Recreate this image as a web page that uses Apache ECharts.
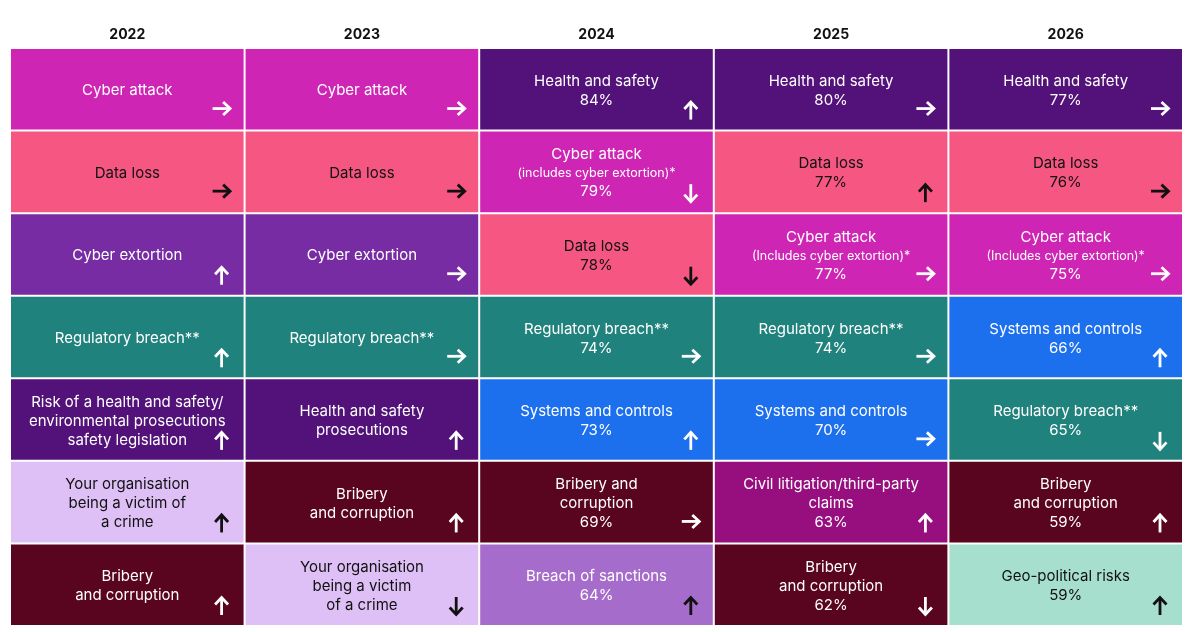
<!DOCTYPE html>
<html><head><meta charset="utf-8">
<script src="https://cdn.jsdelivr.net/npm/echarts@6/dist/echarts.min.js"></script>
<style>html,body{margin:0;padding:0;background:#fff}#c{width:1198px;height:632px}</style>
</head><body><div id="c"></div>
<script>
var years = ['2022', '2023', '2024', '2025', '2026'];
var ranks = ['1', '2', '3', '4', '5', '6', '7'];

var labels2022 = ['Cyber attack', 'Data loss', 'Cyber extortion', 'Regulatory breach**', 'Risk of a health and safety/\nenvironmental prosecutions\nsafety legislation', 'Your organisation\nbeing a victim of\na crime', 'Bribery\nand corruption'];
var kinds2022 = ['cyber', 'data', 'extortion', 'regulatory', 'health', 'victim', 'bribery'];
var pct2022 = [null, null, null, null, null, null, null];
var trend2022 = ['right', 'right', 'up', 'up', 'up', 'up', 'up'];

var labels2023 = ['Cyber attack', 'Data loss', 'Cyber extortion', 'Regulatory breach**', 'Health and safety\nprosecutions', 'Bribery\nand corruption', 'Your organisation\nbeing a victim\nof a crime'];
var kinds2023 = ['cyber', 'data', 'extortion', 'regulatory', 'health', 'bribery', 'victim'];
var pct2023 = [null, null, null, null, null, null, null];
var trend2023 = ['right', 'right', 'right', 'right', 'up', 'up', 'down'];

var labels2024 = ['Health and safety', 'Cyber attack', 'Data loss', 'Regulatory breach**', 'Systems and controls', 'Bribery and\ncorruption', 'Breach of sanctions'];
var notes2024 = ['', '(includes cyber extortion)*', '', '', '', '', ''];
var kinds2024 = ['health', 'cyber', 'data', 'regulatory', 'systems', 'bribery', 'sanctions'];
var pct2024 = [84, 79, 78, 74, 73, 69, 64];
var trend2024 = ['up', 'down', 'down', 'right', 'up', 'right', 'up'];

var labels2025 = ['Health and safety', 'Data loss', 'Cyber attack', 'Regulatory breach**', 'Systems and controls', 'Civil litigation/third-party\nclaims', 'Bribery\nand corruption'];
var notes2025 = ['', '', '(Includes cyber extortion)*', '', '', '', ''];
var kinds2025 = ['health', 'data', 'cyber', 'regulatory', 'systems', 'civil', 'bribery'];
var pct2025 = [80, 77, 77, 74, 70, 63, 62];
var trend2025 = ['right', 'up', 'right', 'right', 'right', 'up', 'down'];

var labels2026 = ['Health and safety', 'Data loss', 'Cyber attack', 'Systems and controls', 'Regulatory breach**', 'Bribery\nand corruption', 'Geo-political risks'];
var notes2026 = ['', '', '(Includes cyber extortion)*', '', '', '', ''];
var kinds2026 = ['health', 'data', 'cyber', 'systems', 'regulatory', 'bribery', 'geo'];
var pct2026 = [77, 76, 75, 66, 65, 59, 59];
var trend2026 = ['right', 'right', 'right', 'up', 'down', 'up', 'up'];

var emptyNotes = ['', '', '', '', '', '', ''];

// styling per risk kind: [fill, text colour, arrow colour]
var kindStyle = {
  cyber:      ['#CF25B4', '#ffffff', '#ffffff'],
  data:       ['#F65782', '#111111', '#111111'],
  extortion:  ['#772CA3', '#ffffff', '#ffffff'],
  regulatory: ['#20827D', '#ffffff', '#ffffff'],
  health:     ['#531279', '#ffffff', '#ffffff'],
  victim:     ['#DFC0F6', '#111111', '#111111'],
  bribery:    ['#59051F', '#ffffff', '#ffffff'],
  systems:    ['#1C70EE', '#ffffff', '#ffffff'],
  civil:      ['#970E7E', '#ffffff', '#ffffff'],
  sanctions:  ['#A66CCB', '#ffffff', '#111111'],
  geo:        ['#A7DFCF', '#111111', '#111111']
};

var columns = [
  {labels: labels2022, notes: emptyNotes, kinds: kinds2022, pct: pct2022, trend: trend2022},
  {labels: labels2023, notes: emptyNotes, kinds: kinds2023, pct: pct2023, trend: trend2023},
  {labels: labels2024, notes: notes2024, kinds: kinds2024, pct: pct2024, trend: trend2024},
  {labels: labels2025, notes: notes2025, kinds: kinds2025, pct: pct2025, trend: trend2025},
  {labels: labels2026, notes: notes2026, kinds: kinds2026, pct: pct2026, trend: trend2026}
];

var data = [];
columns.forEach(function (col, ci) {
  col.labels.forEach(function (lab, ri) {
    data.push({
      value: [ci, ri, col.pct[ri] == null ? '-' : col.pct[ri]],
      label: lab, note: col.notes[ri], kind: col.kinds[ri], trend: col.trend[ri], pct: col.pct[ri]
    });
  });
});

function arrowShapes(dir, cx, cy, color) {
  var st = {stroke: color, lineWidth: 2.8, fill: 'none', lineJoin: 'miter', lineCap: 'butt'};
  var shaft, head;
  if (dir === 'right') {
    shaft = [[cx - 9, cy], [cx + 8, cy]];
    head = [[cx + 1.5, cy - 6.5], [cx + 8.5, cy], [cx + 1.5, cy + 6.5]];
  } else if (dir === 'up') {
    shaft = [[cx, cy + 9], [cx, cy - 8]];
    head = [[cx - 6.5, cy - 1.5], [cx, cy - 8.5], [cx + 6.5, cy - 1.5]];
  } else {
    shaft = [[cx, cy - 9], [cx, cy + 8]];
    head = [[cx - 6.5, cy + 1.5], [cx, cy + 8.5], [cx + 6.5, cy + 1.5]];
  }
  return [
    {type: 'polyline', shape: {points: shaft}, style: st, silent: true},
    {type: 'polyline', shape: {points: head}, style: st, silent: true}
  ];
}

var chart = echarts.init(document.getElementById('c'), null, {renderer: 'canvas'});
chart.setOption({
  animation: false,
  grid: {left: 10, right: 15, top: 48, bottom: 6},
  xAxis: {
    type: 'category', data: years, position: 'top',
    axisLine: {show: false}, axisTick: {show: false}, splitLine: {show: false},
    axisLabel: {color: '#111', fontWeight: 'bold', fontSize: 14, fontFamily: 'Inter', margin: 6}
  },
  yAxis: {
    type: 'category', data: ranks, inverse: true, show: false
  },
  series: [{
    type: 'custom',
    data: data,
    encode: {x: 0, y: 1},
    renderItem: function (params, api) {
      var d = data[params.dataIndex];
      var c = api.coord([api.value(0), api.value(1)]);
      var s = api.size([1, 1]);
      var x0 = c[0] - s[0] / 2 + 1, y0 = c[1] - s[1] / 2 + 1;
      var w = s[0] - 2, h = s[1] - 2;
      var sty = kindStyle[d.kind];
      var parts = d.label.split('\n').map(function (l) { return '{t|' + l + '}'; });
      if (d.note) parts.push('{s|' + d.note + '}');
      if (d.pct != null) parts.push('{t|' + d.pct + '%}');
      var children = [
        {type: 'rect', shape: {x: x0, y: y0, width: w, height: h}, style: {fill: sty[0]}},
        {type: 'text', style: {
          text: parts.join('\n'), x: x0 + w / 2, y: y0 + h / 2 + 1.5,
          align: 'center', verticalAlign: 'middle', fill: sty[1],
          fontFamily: 'Inter',
          rich: {
            t: {fontSize: 15, lineHeight: 19, fontFamily: 'Inter', fill: sty[1], align: 'center'},
            s: {fontSize: 12.5, lineHeight: 18, fontFamily: 'Inter', fill: sty[1], align: 'center'}
          }
        }}
      ];
      var ax = x0 + w - 22;
      var ay = d.trend === 'right' ? y0 + h - 21 : y0 + h - 19;
      children = children.concat(arrowShapes(d.trend, ax, ay, sty[2]));
      return {type: 'group', children: children};
    }
  }]
});
</script>
</body></html>
